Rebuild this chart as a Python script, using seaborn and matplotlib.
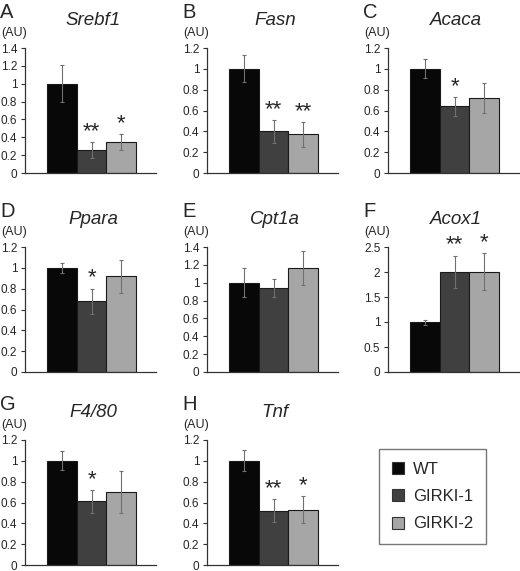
import pandas as pd
import matplotlib.pyplot as plt
from matplotlib.patches import Patch
from matplotlib.ticker import FuncFormatter, MultipleLocator
import seaborn as sns

letters = ['A', 'B', 'C', 'D', 'E', 'F', 'G', 'H']
genes = ['Srebf1', 'Fasn', 'Acaca', 'Ppara', 'Cpt1a', 'Acox1', 'F4/80', 'Tnf']
groups = ['WT', 'GIRKI-1', 'GIRKI-2']

wt_mean = [1.0, 1.0, 1.0, 1.0, 1.0, 1.0, 1.0, 1.0]
k1_mean = [0.26, 0.40, 0.64, 0.68, 0.94, 2.01, 0.61, 0.52]
k2_mean = [0.35, 0.37, 0.72, 0.92, 1.16, 2.01, 0.70, 0.53]
wt_err = [0.21, 0.13, 0.09, 0.05, 0.16, 0.05, 0.09, 0.10]
k1_err = [0.09, 0.11, 0.09, 0.12, 0.10, 0.32, 0.11, 0.11]
k2_err = [0.09, 0.12, 0.14, 0.16, 0.19, 0.37, 0.20, 0.13]
k1_star = ['**', '**', '*', '*', '', '**', '*', '**']
k2_star = ['*', '**', '', '', '', '*', '', '*']
ymax = [1.4, 1.2, 1.2, 1.2, 1.4, 2.5, 1.2, 1.2]
ystep = [0.2, 0.2, 0.2, 0.2, 0.2, 0.5, 0.2, 0.2]

colors = ['#080808', '#404040', '#a6a6a6']

sns.set_style('ticks')
plt.rcParams['font.family'] = ['Liberation Sans', 'DejaVu Sans']

W, H = 520, 571
fig = plt.figure(figsize=(W / 100, H / 100), dpi=100)

col_x = [25, 207, 388]
row_top = [48, 247, 440]
ax_w, ax_h = 131, 125


def fx(px):
    return px / W


def fy(py):
    return 1 - py / H


for i, gene in enumerate(genes):
    r, c = divmod(i, 3)
    left, top = col_x[c], row_top[r]
    ax = fig.add_axes([fx(left), fy(top + ax_h), ax_w / W, ax_h / H])

    df = pd.DataFrame({'group': groups,
                       'value': [wt_mean[i], k1_mean[i], k2_mean[i]],
                       'err': [wt_err[i], k1_err[i], k2_err[i]]})
    sns.barplot(data=df, x='group', y='value', hue='group', palette=colors,
                width=1, edgecolor='#1a1a1a', linewidth=0.8, errorbar=None,
                legend=False, ax=ax)
    ax.errorbar(range(3), df['value'], yerr=df['err'], fmt='none',
                ecolor='#707070', elinewidth=0.8, capsize=1.5, capthick=0.8)

    stars = ['', k1_star[i], k2_star[i]]
    for j, s in enumerate(stars):
        if s:
            ax.annotate(s, (j, df['value'][j] + df['err'][j]),
                        xytext=(0, 0), textcoords='offset points',
                        ha='center', va='bottom', fontsize=16)

    ax.set_xlim(-1.24, 3.17)
    ax.set_ylim(0, ymax[i])
    ax.yaxis.set_major_locator(MultipleLocator(ystep[i]))
    ax.yaxis.set_major_formatter(FuncFormatter(lambda v, p: '{:g}'.format(round(v, 2))))
    ax.set_xticks([])
    ax.set_xlabel('')
    ax.set_ylabel('')
    for sp in ['top', 'right']:
        ax.spines[sp].set_visible(False)
    for sp in ['left', 'bottom']:
        ax.spines[sp].set_color('#333333')
        ax.spines[sp].set_linewidth(0.9)
    ax.tick_params(axis='y', length=3, width=0.8, color='#333333',
                   labelsize=8.5, pad=2.5)

    fig.text(fx(left - 25), fy(top - 30), letters[i], fontsize=14.5,
             ha='left', va='baseline')
    fig.text(fx(left + 68), fy(top - 23), gene, fontsize=13.5,
             style='italic', ha='center', va='baseline')
    fig.text(fx(left - 24), fy(top - 12), '(AU)', fontsize=9,
             ha='left', va='baseline')

handles = [Patch(facecolor=col, edgecolor='#333333', linewidth=0.8)
           for col in colors]
fig.legend(handles, groups, loc='upper left',
           bbox_to_anchor=(fx(379), fy(449)), borderaxespad=0,
           fontsize=12, frameon=True, fancybox=False, edgecolor='#555555',
           handlelength=0.75, handleheight=0.75, handletextpad=0.55,
           borderpad=0.75, labelspacing=0.75)

fig.savefig('out.png', dpi=100)
